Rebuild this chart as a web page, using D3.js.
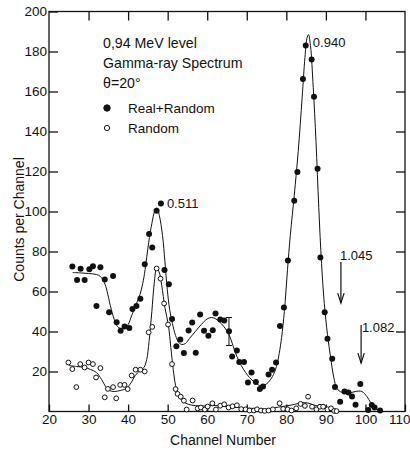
<!DOCTYPE html>
<html><head><meta charset="utf-8">
<script src="https://cdn.jsdelivr.net/npm/d3@7"></script>
<style>
body{margin:0;background:#fff;}
svg{display:block;}
text{font-family:"Liberation Sans Narrow","Liberation Sans",Arial,sans-serif;fill:#111;}
</style></head><body>
<svg id="c" width="410" height="451"></svg>
<script>
// ---------- data ----------
const xTicks = [20,30,40,50,60,70,80,90,100,110];
const yTicks = [20,40,60,80,100,120,140,160,180,200];
const realRandom = [[25.9,72.5],[27.1,65.7],[28.0,71.4],[29.0,65.7],[30.2,71.1],[31.1,72.6],[32.0,52.7],[33.0,72.1],[34.1,66],[35.2,49.6],[36.2,67.7],[37.1,44.6],[38.1,40.4],[39.1,42.5],[40.3,41.8],[41.1,51.3],[42.1,52.7],[43.1,56.4],[44.2,73.6],[45.3,88.7],[46.1,82],[47.2,100.4],[48.3,104],[49.2,70.8],[50.3,63.6],[51.1,46.3],[52.2,32.6],[53.2,36],[54.1,29.2],[55.3,40.5],[56.2,44.5],[57.1,29.4],[58.2,48.5],[59.2,40.4],[60.3,37.9],[61.4,40.6],[62.1,49],[63.3,46],[64.3,45.5],[65.5,40.1],[66.3,27.5],[67.5,30.5],[68.1,24.7],[69.3,24.7],[70.3,14.5],[71.2,19.5],[72.3,14.8],[73.3,11.2],[74.1,12.5],[75.5,18.5],[76.4,20.9],[77.4,24.5],[78.4,42.8],[79.4,52],[80.4,75.5],[82.0,105.4],[82.8,119.7],[84.2,166.2],[84.9,183],[86.4,176],[87.0,157.4],[87.9,121.4],[88.6,77],[89.7,49.6],[90.4,36.4],[91.6,26.4],[92.3,12.3],[93.6,4.9],[94.7,10],[95.7,9.5],[96.6,7.5],[97.5,3.4],[98.7,13.8],[100.7,0.8],[101.6,3.3],[102.3,2],[103.7,0.5]];
const randomOnly = [[24.9,24.5],[25.9,21.2],[26.9,12.2],[27.9,23.7],[29.0,22],[30.0,24.5],[31.1,23.7],[31.9,17],[33.0,21.7],[34.1,7.1],[34.9,11.3],[36.2,12.2],[37.0,6.6],[38.0,13.3],[39.1,13.3],[39.9,11.2],[40.9,18],[41.9,20.9],[43.1,20.9],[44.2,20],[45.2,39.6],[46.1,42.3],[47.2,71.5],[48.2,66.4],[49.1,54],[50.1,43.5],[51.1,23.7],[52.0,11.2],[52.5,8.8],[53.3,7.4],[54.1,5.4],[54.8,1],[56.3,5.5],[57.6,1.5],[58.4,2],[59.4,1],[60.1,2.5],[61.3,4.1],[62.2,1],[63.3,2.9],[64.3,3.6],[65.4,2],[66.4,2.6],[67.5,3.1],[68.6,1.2],[69.7,1.1],[70.7,0.5],[71.8,0.5],[72.6,1.1],[73.6,0.5],[74.5,0.3],[75.5,0.5],[76.6,1.1],[78.3,4.1],[79.2,1.3],[80.3,1.1],[81.3,0.5],[82.5,1.6],[83.6,3.8],[84.7,2.8],[85.5,7.4],[86.5,2.4],[87.6,1.1],[88.5,2.4],[89.3,2.4],[90.4,1.1],[91.3,1.6],[92.1,0.3],[92.7,0.2]];
const fitRealRandom = [[26,69.5],[28,69.3],[30,69],[32,68.5],[33,67.5],[34,64.5],[34.7,60],[35.5,53],[36.5,46],[37.3,42.5],[38.2,41.5],[39.2,42],[40,43.5],[41,48.5],[42,53.5],[43,58.5],[43.7,64],[44.3,71],[45.2,84.5],[46,94],[46.7,100],[47.3,101.8],[47.9,98],[48.7,88],[49.3,75],[49.9,61],[50.5,51],[51.2,44],[52,38],[52.8,34.5],[53.6,33.5],[54.5,34],[55.5,36.5],[57,40],[58.5,43.5],[60,46.3],[61,47],[62,46.5],[63,45],[64.2,42.5],[65.5,38.5],[66.5,33],[67.5,27.5],[68.6,23],[69.7,19.5],[70.7,17],[72,14.5],[73.3,13],[74.3,13],[75.4,14.5],[76.5,17.5],[77.5,22.5],[78.2,29],[78.8,37],[79.5,50],[80.3,71],[81,88],[82,108],[83,130],[84,157],[84.7,177],[85.2,186.5],[85.6,188.5],[86.1,183],[86.8,162],[87.5,135],[88.2,102],[88.9,74],[89.6,54],[90.4,38.5],[91.2,27],[92,17],[92.8,11.5],[94,9.6],[95.7,9.1],[97.4,10],[99.1,10],[100.4,7.4],[101.3,4.5],[102.1,2.4],[103.2,0.8],[104.2,0]];
const fitRandom = [[25,23],[27,22.5],[29,22],[30.5,21],[32,19.5],[33.3,16],[34.3,12.5],[35.3,10.5],[36.5,10],[38,10.5],[39.5,11.5],[40.8,14.5],[41.8,18],[43,20.5],[44,22],[44.7,26],[45.3,35],[46,50],[46.6,64],[47.2,71.5],[47.8,70],[48.5,63],[49.3,52],[50.2,43],[50.8,32],[51.4,21],[52,13],[52.6,8.5],[53.5,5.8],[54.5,4.2],[56,3.2],[58,2.8],[60,2.8],[62,3],[64,2.6],[66,2.3],[68,2],[70,1.7],[72,1.5],[74,1.2],[76,1.5],[78,2.2],[80,2.8],[82,3.5],[83.8,4.4],[85.5,4.2],[87,3.2],[88.5,2.5],[90,1.5],[91.5,0.6],[92.5,0]];
const legendItems = ["Real+Random","Random"];
const titleLines = ["0,94 MeV level","Gamma-ray Spectrum","\u03B8=20\u00B0"];
const peakLabels = [{t:"0.511",ch:49.8,c:101.7},{t:"0.940",ch:86.7,c:182.5},{t:"1.045",ch:93.55,c:75.7},{t:"1.082",ch:99.1,c:39.7}];
const arrows = [{ch:93.8,top:74.7,bottom:54.2},{ch:98.9,top:43.2,bottom:24.2}];
const errorBar = {ch:65.5,lo:33,hi:47};

// ---------- scales ----------
const svg = d3.select("#c");
const x = d3.scaleLinear().domain([20,110]).range([49,405]);
const y = d3.scaleLinear().domain([0,200]).range([411.5,11.5]);
const ink = "#111";

// frame
svg.append("rect").attr("x",x(20)).attr("y",y(200)).attr("width",x(110)-x(20)).attr("height",y(0)-y(200))
  .attr("fill","none").attr("stroke",ink).attr("stroke-width",1.3);

// axes
const axB = svg.append("g").attr("transform",`translate(0,${y(0)})`)
  .call(d3.axisBottom(x).tickValues(xTicks).tickSize(-7).tickPadding(3).tickFormat(d3.format("d")));
const axL = svg.append("g").attr("transform",`translate(${x(20)},0)`)
  .call(d3.axisLeft(y).tickValues(yTicks).tickSize(-9).tickPadding(2).tickFormat(d3.format("d")));
const axT = svg.append("g").attr("transform",`translate(0,${y(200)})`)
  .call(d3.axisTop(x).tickValues(xTicks.slice(1,-1)).tickSize(-9).tickFormat(""));
const axR = svg.append("g").attr("transform",`translate(${x(110)},0)`)
  .call(d3.axisRight(y).tickValues(yTicks.slice(0,-1)).tickSize(-9).tickFormat(""));
[axB,axL,axT,axR].forEach(a=>{
  a.select(".domain").remove();
  a.selectAll("line").attr("stroke",ink).attr("stroke-width",1.3);
  a.selectAll("text").attr("font-size",13.5).attr("fill",ink)
   .style("font-family",'"Liberation Sans Narrow","Liberation Sans",Arial,sans-serif');
});
axB.selectAll(".tick").filter(d=>d===110).select("text").attr("text-anchor","end").attr("dx",5);

// axis titles
svg.append("text").attr("x",x(65)-4).attr("y",445).attr("text-anchor","middle").attr("font-size",14).text("Channel Number");
svg.append("text").attr("transform",`translate(24,${y(96)}) rotate(-90)`).attr("text-anchor","middle").attr("font-size",14).text("Counts per Channel");

// curves
const line = d3.line().x(d=>x(d[0])).y(d=>y(d[1])).curve(d3.curveCatmullRom.alpha(0.5));
svg.append("path").datum(fitRandom).attr("d",line).attr("fill","none").attr("stroke",ink).attr("stroke-width",1);
svg.append("path").datum(fitRealRandom).attr("d",line).attr("fill","none").attr("stroke",ink).attr("stroke-width",1);

// points
svg.append("g").selectAll("circle").data(randomOnly).join("circle")
  .attr("cx",d=>x(d[0])).attr("cy",d=>y(d[1])).attr("r",2.4)
  .attr("fill","#fff").attr("stroke",ink).attr("stroke-width",1);
svg.append("g").selectAll("circle").data(realRandom).join("circle")
  .attr("cx",d=>x(d[0])).attr("cy",d=>y(d[1])).attr("r",3)
  .attr("fill",ink);

// error bar
const eb = svg.append("g").attr("stroke",ink).attr("stroke-width",1);
eb.append("line").attr("x1",x(errorBar.ch)).attr("x2",x(errorBar.ch)).attr("y1",y(errorBar.lo)).attr("y2",y(errorBar.hi));
[errorBar.lo,errorBar.hi].forEach(v=>eb.append("line").attr("x1",x(errorBar.ch)-3).attr("x2",x(errorBar.ch)+3).attr("y1",y(v)).attr("y2",y(v)));

// arrows
arrows.forEach(a=>{
  const ax = x(a.ch), y1=y(a.top), y2=y(a.bottom);
  svg.append("line").attr("x1",ax).attr("x2",ax).attr("y1",y1).attr("y2",y2).attr("stroke",ink).attr("stroke-width",1.2);
  svg.append("path").attr("d",`M${ax-3.2},${y2-10}L${ax},${y2}L${ax+3.2},${y2-10}`).attr("fill","none").attr("stroke",ink).attr("stroke-width",1.2);
});

// peak labels
svg.append("g").selectAll("text").data(peakLabels).join("text")
  .attr("x",d=>x(d.ch)).attr("y",d=>y(d.c)).attr("font-size",13).text(d=>d.t);

// title block
svg.append("g").selectAll("text").data(titleLines).join("text")
  .attr("x",103).attr("y",(d,i)=>48+i*20).attr("font-size",14.2).text(d=>d);
// legend
const lg = svg.append("g");
legendItems.forEach((t,i)=>{
  const cy = 108+i*20;
  lg.append("circle").attr("cx",107).attr("cy",cy).attr("r",i===0?3.2:2.6)
    .attr("fill",i===0?ink:"#fff").attr("stroke",ink).attr("stroke-width",1);
  lg.append("text").attr("x",128).attr("y",cy+4.5).attr("font-size",13.5).text(t);
});
</script></body></html>
